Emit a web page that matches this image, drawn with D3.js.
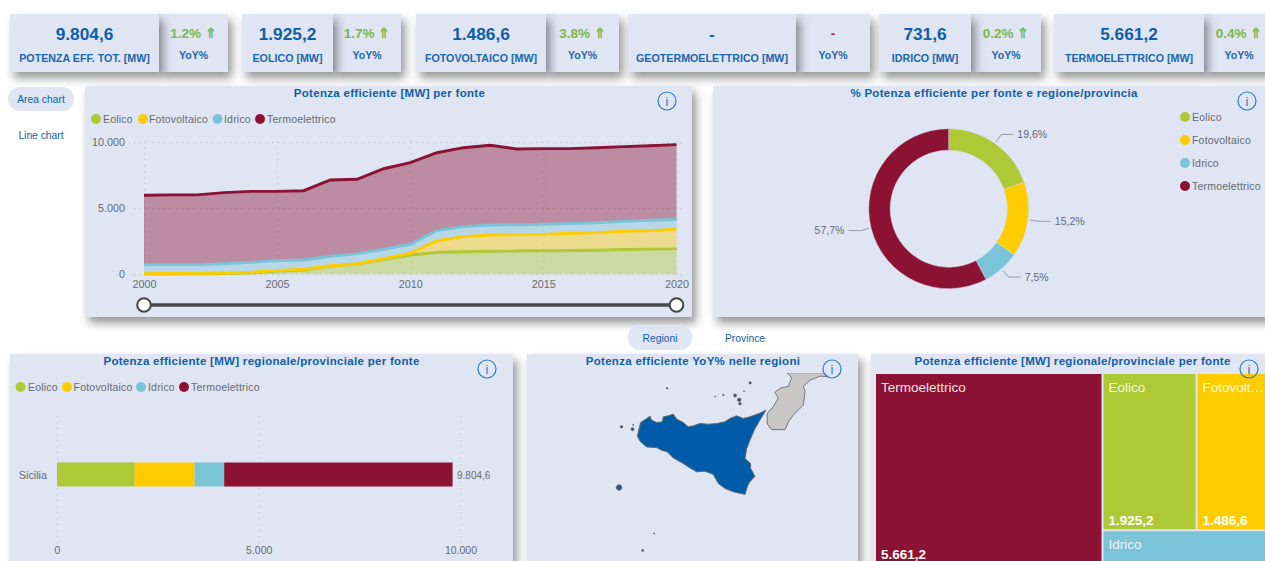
<!DOCTYPE html>
<html lang="it"><head><meta charset="utf-8">
<script src="https://cdnjs.cloudflare.com/ajax/libs/d3/7.8.5/d3.min.js"></script>
<style>
html,body{margin:0;padding:0;width:1265px;height:561px;overflow:hidden;background:#fff;font-family:"Liberation Sans",Arial,sans-serif}
.p{position:absolute;background:#e0e5f3;box-shadow:4px 6px 9px rgba(0,0,0,.42)}
svg{position:absolute;left:0;top:0}
text{font-family:"Liberation Sans",Arial,sans-serif}
</style></head><body>
<div id="panels"></div>
<svg id="c" width="1265" height="561"></svg>
<script>
// ---------- data ----------
const sources=["Eolico","Fotovoltaico","Idrico","Termoelettrico"];
const sourceColors=["#afc835","#ffcc00","#7bc3d6","#8b1232"];
const years=[2000,2001,2002,2003,2004,2005,2006,2007,2008,2009,2010,2011,2012,2013,2014,2015,2016,2017,2018,2019,2020];
const eolico=[20,25,30,50,100,250,330,620,770,1130,1460,1660,1710,1740,1760,1780,1800,1820,1870,1900,1925.2];
const fotovoltaico=[30,35,40,50,50,50,50,30,30,50,130,880,1140,1230,1240,1240,1300,1330,1380,1400,1486.6];
const idrico=[680,670,660,700,750,730,700,710,740,710,680,760,750,760,750,760,730,750,750,780,731.6];
const termoelettrico=[5240,5270,5270,5370,5370,5240,5240,5770,5640,6090,6170,5890,5970,6020,5720,5720,5670,5670,5650,5640,5661.2];
const latest=[1925.2,1486.6,731.6,5661.2];
const barRegion="Sicilia";
const kpiLabels=["POTENZA EFF. TOT. [MW]","EOLICO [MW]","FOTOVOLTAICO [MW]","GEOTERMOELETTRICO [MW]","IDRICO [MW]","TERMOELETTRICO [MW]"];
const kpiValues=["9.804,6","1.925,2","1.486,6","-","731,6","5.661,2"];
const kpiYoY=["1.2% ⇑","1.7% ⇑","3.8% ⇑","-","0.2% ⇑","0.4% ⇑"];
const areaTicksX=[2000,2005,2010,2015,2020];
const ticksMW=[0,5000,10000];
const sicily=[[15.65,38.27],[15.486,38.204],[15.256,38.139],[15.093,38.107],[14.929,38.159],[14.765,38.107],[14.642,38.042],[14.437,38.009],[14.233,37.996],[14.028,38.009],[13.864,37.964],[13.741,37.944],[13.618,38.029],[13.455,38.094],[13.373,38.191],[13.25,38.159],[13.127,38.139],[13.102,38.042],[12.963,38.029],[12.84,38.074],[12.799,38.152],[12.701,38.094],[12.57,38.029],[12.529,37.899],[12.488,37.769],[12.554,37.665],[12.717,37.554],[12.963,37.541],[13.086,37.489],[13.225,37.457],[13.373,37.34],[13.577,37.249],[13.741,37.164],[13.946,37.067],[14.151,37.08],[14.356,37.015],[14.478,36.839],[14.642,36.741],[14.847,36.676],[15.134,36.624],[15.191,36.774],[15.24,36.859],[15.379,36.982],[15.273,37.132],[15.273,37.229],[15.134,37.327],[15.175,37.522],[15.256,37.684],[15.379,37.912],[15.52,38.1],[15.65,38.27]];
const calabria=[[16.17,38.985],[16.28,38.89],[16.2,38.725],[16.0,38.69],[15.87,38.61],[15.95,38.5],[15.83,38.335],[15.68,38.205],[15.68,38.0],[15.79,37.89],[16.12,37.89],[16.2,38.04],[16.32,38.17],[16.57,38.37],[16.61,38.63],[16.57,38.725],[16.73,38.84],[16.98,38.92],[17.18,38.91],[17.06,38.985],[16.17,38.985]];
const islands=[[15.26,38.79,.022],[15.11,38.63,.01],[14.89,38.55,.03],[14.99,38.465,.035],[15.01,38.39,.025],[14.6,38.56,.015],[14.4,38.53,.01],[13.22,38.69,.016],[12.1,37.945,.025],[12.37,37.9,.03],[12.39,37.98,.012],[12.04,36.76,.055],[12.9,35.85,.012],[12.62,35.51,.022]];

// ---------- layout ----------
const BG="#e0e5f3",BLUE="#0f5ea8",GREY="#666a70",GRID="#b9bcc6";
const cards=[[10,159,228],[242,333,401],[416,546,619],[628,796,870],[879,971,1041],[1054,1204,1285]];
const panelsBox=[[85,86,607,231],[713,86,560,231],[10,354,503,220],[527,354,331,220],[871,354,400,220],[8,87,66,24,12],[628,325,64,25,12]];
const loc=d3.formatLocale({decimal:",",thousands:".",grouping:[3],currency:["","€"]});
const f0=loc.format(",.0f"),f1=loc.format(",.1f"),p1=v=>loc.format(".1f")(v)+"%";
const yr=d3.format("d");
const root=d3.select("#panels");
function box(x,y,w,h,r,noShadow){root.append("div").attr("class","p").style("left",x+"px").style("top",y+"px").style("width",w+"px").style("height",h+"px").style("border-radius",(r||0)+"px").style("box-shadow",noShadow?"none":null);}
cards.forEach(c=>{box(c[1],14,c[2]-c[1],58);box(c[0],14,c[1]-c[0],58);});
panelsBox.forEach(b=>box(b[0],b[1],b[2],b[3],b[4],!!b[4]));
const svg=d3.select("#c");
function txt(x,y,s,o={}){return svg.append("text").attr("x",x).attr("y",y).text(s).attr("text-anchor",o.a||"middle").attr("font-size",o.s||10.5).attr("font-weight",o.w||"normal").attr("fill",o.c||GREY).attr("dominant-baseline","central").attr("letter-spacing",o.l||null);}
function info(x,y){svg.append("circle").attr("cx",x).attr("cy",y).attr("r",9).attr("fill","none").attr("stroke","#2f7cc4").attr("stroke-width",1.2);txt(x,y,"i",{s:13,c:"#2f7cc4"});}
function legend(items,y){items.forEach(([cx,tx],i)=>{svg.append("circle").attr("cx",cx).attr("cy",y===null?117+23*i:y).attr("r",5).attr("fill",sourceColors[i]);txt(tx,y===null?117+23*i:y,sources[i],{a:"start",s:10.5,l:.2});});}

// KPI cards
cards.forEach((c,i)=>{
 const lx=(c[0]+c[1])/2,rx=i===5?1239:(c[1]+c[2])/2;
 txt(lx,34,kpiValues[i],{s:17.3,w:"bold",c:BLUE});
 txt(lx,57.5,kpiLabels[i],{s:10.7,w:"bold",c:"#1b66ad"});
 txt(rx,33.5,kpiYoY[i],{s:13.5,w:"bold",c:kpiYoY[i]==="-"?"#a02040":"#7ab84a"});
 txt(rx,55,"YoY%",{s:10.5,w:"bold",c:"#1b66ad"});
});

// Buttons
txt(41,99,"Area chart",{s:10.3,c:BLUE});
txt(41,135,"Line chart",{s:10.3,c:BLUE});
txt(660,338,"Regioni",{s:10.3,c:BLUE});
txt(745,338,"Province",{s:10.3,c:BLUE});

// Area chart
const bySource=years.map((y,i)=>({year:y,Eolico:eolico[i],Fotovoltaico:fotovoltaico[i],Idrico:idrico[i],Termoelettrico:termoelettrico[i]}));
const stacked=d3.stack().keys(sources)(bySource);
const ax=d3.scaleLinear().domain([2000,2020]).range([144,676.5]);
const ay=d3.scaleLinear().domain([0,10000]).range([274.3,142]);
txt(389.5,93,"Potenza efficiente [MW] per fonte",{s:11.5,w:"bold",c:BLUE,l:.3});
info(667,101);
legend([[96,103],[143,149],[217.5,224],[260,267]],119);
const gridStyle=g=>g.attr("stroke",GRID).attr("stroke-dasharray","1 5").attr("stroke-width",1);
const gy=svg.append("g").attr("transform","translate(134,0)").call(d3.axisLeft(ay).tickValues(ticksMW).tickFormat(f0).tickSize(0).tickPadding(9));
gy.select(".domain").remove();
gy.selectAll("text").attr("font-size",10.8).attr("fill",GREY);
gy.selectAll(".tick").append("line").attr("x1",0).attr("x2",549).call(gridStyle);
const gx=svg.append("g").attr("transform","translate(0,274.3)").call(d3.axisBottom(ax).tickValues(areaTicksX).tickFormat(yr).tickSize(0).tickPadding(6));
gx.select(".domain").remove();
gx.selectAll("text").attr("font-size",10.8).attr("fill",GREY);
gx.selectAll(".tick").append("line").attr("y1",0).attr("y2",ay(10000)-274.3-4).call(gridStyle);
const area=d3.area().x(d=>ax(d.data.year)).y0(d=>ay(d[0])).y1(d=>ay(d[1]));
const topLine=d3.line().x(d=>ax(d.data.year)).y(d=>ay(d[1]));
stacked.forEach((s,i)=>svg.append("path").attr("d",area(s)).attr("fill",sourceColors[i]).attr("fill-opacity",.42));
stacked.forEach((s,i)=>svg.append("path").attr("d",topLine(s)).attr("fill","none").attr("stroke",sourceColors[i]).attr("stroke-width",2.9));
// slider
svg.append("line").attr("x1",ax(2000)).attr("x2",ax(2020)).attr("y1",305).attr("y2",305).attr("stroke","#484848").attr("stroke-width",3.6);
[2000,2020].forEach(y=>svg.append("circle").attr("cx",ax(y)).attr("cy",305).attr("r",6.8).attr("fill","#fff").attr("stroke","#484848").attr("stroke-width",2));

// Donut
txt(994,93,"% Potenza efficiente per fonte e regione/provincia",{s:11.5,w:"bold",c:BLUE,l:.3});
info(1247,101);
legend(sources.map(()=>[1185,1192]),null);
const cx=948.7,cy=208.7;
const pie=d3.pie().sort(null)(latest);
const arc=d3.arc().innerRadius(58.5).outerRadius(80);
const total=d3.sum(latest);
pie.forEach((p,i)=>{
 svg.append("path").attr("transform",`translate(${cx},${cy})`).attr("d",arc(p)).attr("fill",sourceColors[i]).attr("stroke","#d5dbe8").attr("stroke-width",.5);
 const m=(p.startAngle+p.endAngle)/2,s=Math.sin(m),c=-Math.cos(m),side=s>=0?1:-1;
 const x1=cx+82*s,y1=cy+82*c,x2=cx+91*s,y2=cy+91*c,x3=x2+side*12;
 svg.append("path").attr("d",`M${x1},${y1}L${x2},${y2}L${x3},${y2}`).attr("fill","none").attr("stroke","#9a9ea8").attr("stroke-width",1);
 txt(x3+side*4,y2-.5,p1(p.value/total*100),{a:side>0?"start":"end",s:10.5});
});

// Stacked bar
txt(261.5,361,"Potenza efficiente [MW] regionale/provinciale per fonte",{s:11.5,w:"bold",c:BLUE,l:.3});
info(487,369);
legend([[20.6,28],[67,73.6],[141,148],[184,191]],387);
const bx=d3.scaleLinear().domain([0,10000]).range([57,460.5]);
const gb=svg.append("g").attr("transform","translate(0,543)").call(d3.axisBottom(bx).tickValues(ticksMW).tickFormat(f0).tickSize(0).tickPadding(4));
gb.select(".domain").remove();
gb.selectAll("text").attr("font-size",10.5).attr("fill",GREY);
gb.selectAll(".tick").append("line").attr("y1",0).attr("y2",-130).call(gridStyle);
const by=d3.scaleBand().domain([barRegion]).range([413,536]).paddingInner(0).paddingOuter(.0);
const barH=24,barY=by(barRegion)+by.bandwidth()/2-barH/2;
let acc=0;
latest.forEach((v,i)=>{svg.append("rect").attr("x",bx(acc)).attr("y",barY).attr("width",bx(acc+v)-bx(acc)).attr("height",barH).attr("fill",sourceColors[i]);acc+=v;});
txt(47,barY+barH/2,barRegion,{a:"end",s:10.8});
txt(457,barY+barH/2+1,f1(total),{a:"start",s:10});

// Map
txt(693,361,"Potenza efficiente YoY% nelle regioni",{s:11.5,w:"bold",c:BLUE,l:.3});
const proj=d3.geoMercator().scale(2332).center([15.65,38.27]).translate([766,410]).precision(.1);
const geo=d3.geoPath(proj);
const poly=c=>({type:"Feature",geometry:{type:"Polygon",coordinates:[c.slice().reverse()]}});
svg.append("clipPath").attr("id","mc").append("rect").attr("x",527).attr("y",373).attr("width",331).attr("height",188);
const mg=svg.append("g").attr("clip-path","url(#mc)");
mg.append("path").attr("d",geo(poly(calabria))).attr("fill","#c9c7c5").attr("stroke","#6a6a6a").attr("stroke-width",.9);
mg.append("path").attr("d",geo(poly(sicily))).attr("fill","#005ca9").attr("stroke","#6a6a6a").attr("stroke-width",1);
islands.forEach(([lo,la,r])=>mg.append("path").attr("d",geo(d3.geoCircle().center([lo,la]).radius(r)())).attr("fill",r>.05?"#35557f":"#4d5560").attr("stroke","#5a5f68").attr("stroke-width",.5));
info(832,369);

// Treemap
txt(1072.5,361,"Potenza efficiente [MW] regionale/provinciale per fonte",{s:11.5,w:"bold",c:BLUE,l:.3});
const tmRoot=d3.hierarchy({children:sources.map((n,i)=>({n,v:latest[i],c:sourceColors[i]}))}).sum(d=>d.v||0).sort((a,b)=>b.value-a.value);
d3.treemap().size([392,189]).paddingInner(2)(tmRoot);
const tg=svg.append("g").attr("transform","translate(876,374)");
tmRoot.leaves().forEach(l=>{
 tg.append("rect").attr("x",l.x0).attr("y",l.y0).attr("width",l.x1-l.x0).attr("height",l.y1-l.y0).attr("fill",l.data.c);
 const name=l.data.n==="Fotovoltaico"?"Fotovolt…":l.data.n;
 tg.append("text").attr("x",l.x0+5).attr("y",l.y0+18).attr("font-size",13.5).attr("fill","#fff").attr("fill-opacity",.9).text(name);
 if(l.data.n!=="Idrico")tg.append("text").attr("x",l.x0+5).attr("y",l.y1-4).attr("font-size",13.5).attr("font-weight","bold").attr("fill","#fff").text(f1(l.value));
});
info(1249,369);
</script>
</body></html>
